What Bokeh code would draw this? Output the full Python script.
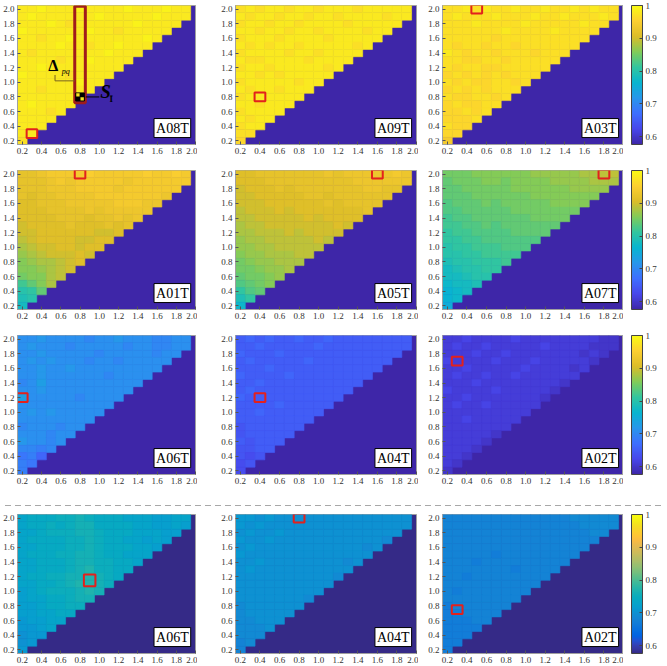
import numpy as np
from bokeh.plotting import figure
from bokeh.models import (ColumnDataSource, LinearColorMapper, ColorBar, FixedTicker,
                          PrintfTickFormatter, Label, Range1d, Div)
from bokeh.layouts import row, column
from bokeh.embed import file_html
from bokeh.resources import INLINE

# ---------------- data ----------------
Y_LEVELS = [2.0, 1.9, 1.8, 1.7, 1.6, 1.5, 1.4, 1.3, 1.2, 1.1, 1.0, 0.9, 0.8, 0.7, 0.6, 0.5, 0.4, 0.3, 0.2]
X_LEVELS = [0.2, 0.3, 0.4, 0.5, 0.6, 0.7, 0.8, 0.9, 1.0, 1.1, 1.2, 1.3, 1.4, 1.5, 1.6, 1.7, 1.8, 1.9]
AXIS_TICKS = [0.2, 0.4, 0.6, 0.8, 1.0, 1.2, 1.4, 1.6, 1.8, 2.0]
CBAR_TICKS = [0.6, 0.7, 0.8, 0.9, 1.0]
CBAR_LOW, CBAR_HIGH = 0.576, 1.0

# values x100, one string per y level (top row y=2.0 first), cells from x=0.2 rightwards
A08T_1 = ["98 98 99 98 98 98 99 98 98 98 98 99 98 98 98 99 98 98",
          "98 99 98 98 98 98 98 98 99 98 98 98 98 98 99 98 98 98",
          "98 98 98 99 98 97 98 98 98 98 98 98 99 98 98 98 98",
          "99 98 98 98 98 98 98 99 98 98 97 98 98 98 98 98",
          "98 98 97 98 98 99 98 98 98 98 98 98 98 99 98",
          "98 98 98 98 99 98 98 97 98 98 99 98 98 98",
          "98 97 98 98 98 98 98 98 98 99 98 98 98",
          "98 98 98 98 97 98 98 99 98 98 98 98",
          "98 98 99 98 98 98 98 98 98 98 98",
          "99 98 98 98 98 97 98 98 98 98",
          "98 98 98 98 98 98 99 98 98",
          "98 98 97 98 98 98 98 98",
          "98 98 98 98 98 98 98",
          "98 99 98 98 98 98",
          "98 98 98 97 98",
          "98 98 98 98",
          "98 98 98",
          "98 98",
          "97"]
A09T_1 = ["97 98 97 98 98 97 98 98 97 98 98 98 97 98 98 98 98 98",
          "98 97 98 98 97 98 98 97 98 98 97 98 98 98 98 97 98 98",
          "97 98 98 97 98 98 97 98 98 98 98 97 98 98 98 98 98",
          "98 98 97 98 98 97 98 98 97 98 98 98 98 97 98 98",
          "97 98 98 98 97 98 98 98 98 97 98 98 98 98 98",
          "98 97 98 97 98 98 97 98 98 98 98 98 97 98",
          "97 98 98 98 98 97 98 98 97 98 98 98 98",
          "98 97 97 98 98 98 98 97 98 98 98 98",
          "97 98 98 97 98 98 98 98 98 97 98",
          "98 98 97 98 97 98 98 98 98 98",
          "97 98 98 98 98 98 97 98 98",
          "98 97 98 98 97 98 98 98",
          "97 98 98 98 98 98 98",
          "98 98 97 98 98 98",
          "97 98 98 98 98",
          "98 97 98 98",
          "97 98 98",
          "97 97",
          "96"]
A03T_1 = ["97 97 98 97 98 97 97 98 97 97 98 97 97 98 97 98 97 97",
          "97 98 97 97 97 98 97 97 97 98 97 97 98 97 97 97 98 97",
          "97 97 97 98 97 97 97 97 98 97 97 97 97 97 98 97 97",
          "97 97 97 97 97 97 98 97 97 97 97 98 97 97 97 97",
          "97 97 97 97 97 96 97 97 97 97 97 97 97 97 97",
          "97 96 97 97 96 97 97 96 97 97 97 97 97 97",
          "98 97 96 97 97 96 97 97 97 96 97 97 97",
          "97 97 96 96 97 97 96 97 97 97 97 97",
          "97 96 97 97 96 96 97 97 97 97 97",
          "96 97 96 97 96 97 96 97 97 97",
          "97 96 97 96 96 97 97 96 97",
          "96 97 96 97 96 97 97 97",
          "97 96 96 97 97 96 97",
          "96 97 96 96 97 97",
          "96 96 97 96 97",
          "96 96 96 97",
          "97 96 96",
          "96 96",
          "94"]
A01T_2 = ["92 92 93 94 94 94 94 95 94 94 94 94 94 95 94 94 95 94",
          "92 92 92 93 94 93 94 94 94 94 94 93 94 94 94 94 94 94",
          "92 92 92 93 93 93 94 94 94 94 93 94 94 94 94 94 94",
          "92 91 92 92 93 93 93 93 94 94 94 94 94 94 94 93",
          "91 91 92 92 92 93 93 93 93 93 94 94 94 93 93",
          "91 91 91 92 92 92 92 93 92 93 93 93 93 93",
          "91 91 91 91 92 92 92 91 92 92 93 92 93",
          "90 91 91 91 91 92 91 91 91 92 91 92",
          "90 90 91 91 91 91 91 91 90 90 91",
          "89 90 91 91 91 91 90 90 91 91",
          "88 89 90 90 91 91 90 91 91",
          "87 88 89 90 90 90 91 90",
          "86 87 88 88 89 90 91",
          "86 86 87 88 89 90",
          "85 86 86 88 89",
          "82 84 86 88",
          "80 81 84",
          "79 80",
          "78"]
A05T_2 = ["91 91 92 92 92 92 92 92 92 93 92 93 93 93 93 93 94 93",
          "91 91 91 92 92 92 92 92 92 92 92 92 93 93 93 93 93 93",
          "90 91 91 91 92 91 92 92 92 92 92 92 92 93 93 92 92",
          "90 90 91 91 91 91 91 92 92 91 92 92 92 92 92 92",
          "90 90 90 91 91 91 91 91 91 92 91 92 92 92 92",
          "89 90 90 90 91 90 91 91 91 91 91 91 91 92",
          "89 89 90 90 90 90 90 91 90 91 91 91 91",
          "88 89 89 90 90 90 90 90 90 90 91 90",
          "88 88 89 89 89 90 89 90 90 90 90",
          "87 88 88 89 89 89 89 89 90 89",
          "87 87 88 88 89 89 89 89 89",
          "86 87 87 88 88 88 89 89",
          "85 86 87 87 88 88 88",
          "85 85 86 87 87 88",
          "84 85 85 86 87",
          "83 84 85 86",
          "81 83 84",
          "79 81",
          "77"]
A07T_2 = ["85 85 85 86 86 86 86 86 86 87 87 87 87 87 88 88 89 89",
          "84 85 85 85 86 86 85 86 86 86 86 87 87 87 87 88 88 88",
          "84 84 85 85 85 85 85 86 86 86 86 86 86 87 87 87 87",
          "84 84 84 85 85 85 85 85 85 86 86 86 86 86 86 86",
          "83 84 84 84 85 84 85 85 85 85 85 86 86 86 86",
          "83 83 84 84 84 84 84 85 85 85 85 85 85 85",
          "82 83 83 84 84 84 84 84 84 85 85 85 85",
          "82 82 83 83 84 83 84 84 84 84 84 84",
          "81 82 82 83 83 83 83 84 84 84 84",
          "81 81 82 82 83 83 83 83 83 83",
          "80 81 81 82 82 82 83 83 83",
          "80 80 81 81 82 82 82 82",
          "79 80 80 81 81 81 82",
          "78 79 80 80 81 81",
          "78 78 79 80 80",
          "77 78 78 79",
          "76 77 78",
          "76 77",
          "75"]
A06T_3 = ["71 71 72 71 71 71 71 70 71 71 72 71 71 71 70 70 71 71",
          "71 72 71 71 71 70 71 71 71 71 71 70 71 71 70 70 71 71",
          "71 71 72 71 71 71 71 71 70 71 71 71 71 71 70 71 71",
          "71 72 71 72 71 71 71 70 71 71 70 71 71 71 71 71",
          "71 71 72 71 71 72 71 71 71 71 71 71 71 71 71",
          "71 71 72 71 71 71 71 71 71 70 71 71 71 71",
          "70 71 73 71 71 71 71 71 71 71 71 71 71",
          "71 71 72 71 71 71 71 71 71 71 71 71",
          "73 71 71 71 71 71 70 71 71 71 71",
          "71 71 71 71 71 71 71 71 71 71",
          "71 72 71 72 71 71 71 71 71",
          "71 71 71 71 71 71 71 71",
          "70 71 71 71 70 71 71",
          "71 71 71 70 71 71",
          "72 71 71 70 71",
          "70 70 69 70",
          "68 69 66",
          "69 68",
          "69"]
A04T_3 = ["65 66 65 66 65 65 66 65 65 66 65 65 65 65 65 65 65 65",
          "65 65 66 65 65 65 65 65 66 65 65 65 65 65 65 65 65 65",
          "66 65 65 65 66 65 65 65 65 65 65 65 65 65 65 65 65",
          "65 66 65 65 65 65 65 66 65 65 65 65 65 65 65 65",
          "65 65 65 66 65 65 65 65 65 65 65 65 65 65 65",
          "66 65 65 65 65 66 65 65 65 65 65 65 65 65",
          "65 65 66 65 65 65 65 65 65 65 65 65 65",
          "65 66 65 65 65 65 65 65 65 65 65 65",
          "66 65 65 65 65 65 65 65 65 65 65",
          "65 65 65 65 66 65 65 65 65 65",
          "65 65 66 65 65 65 65 65 65",
          "65 65 65 65 65 65 65 65",
          "64 65 65 65 65 65 65",
          "64 65 65 65 65 65",
          "65 64 65 65 65",
          "64 64 65 65",
          "64 63 64",
          "63 64",
          "63"]
A02T_3 = ["61 61 62 61 61 61 61 62 61 61 61 61 61 61 61 61 60 60",
          "61 62 61 61 62 61 61 61 61 61 62 61 61 61 61 60 60 60",
          "61 61 61 62 61 61 62 61 61 61 61 61 61 61 60 61 60",
          "62 61 61 61 61 62 61 61 61 62 61 61 61 61 61 60",
          "61 61 62 61 61 61 61 61 62 61 61 61 61 60 61",
          "61 62 61 61 62 61 61 62 61 61 61 61 61 61",
          "61 61 61 62 61 61 61 61 61 61 61 61 60",
          "62 61 61 61 61 62 61 61 61 61 61 60",
          "61 61 62 61 61 61 61 61 61 61 60",
          "61 62 61 61 62 61 61 61 61 61",
          "61 61 61 61 61 61 61 61 61",
          "61 61 62 61 61 61 61 61",
          "61 61 61 61 61 61 61",
          "61 61 61 61 61 60",
          "61 61 61 61 60",
          "61 61 61 60",
          "61 61 60",
          "61 60",
          "60"]
A06T_4 = ["73 74 74 74 75 75 76 75 74 74 74 73 73 73 72 72 73 73",
          "73 74 74 75 74 75 76 76 74 74 74 74 73 73 72 72 73 72",
          "73 73 74 75 75 75 76 76 75 74 74 74 73 73 73 72 72",
          "73 74 74 74 74 75 75 76 75 74 74 73 73 72 73 72",
          "73 73 74 74 74 75 75 76 75 74 74 74 73 73 72",
          "73 74 74 74 75 75 76 76 75 74 74 73 73 73",
          "73 73 74 74 74 75 76 76 75 75 74 74 73",
          "73 73 74 74 74 75 76 77 75 75 74 74",
          "73 74 74 75 75 76 76 77 76 75 74",
          "73 73 74 74 75 76 77 77 76 75",
          "72 73 74 75 75 75 76 77 76",
          "72 73 73 74 74 75 76 76",
          "72 72 73 74 74 75 75",
          "72 72 73 73 74 74",
          "71 72 72 73 73",
          "71 71 72 73",
          "70 71 71",
          "70 71",
          "71"]
A04T_4 = ["71 71 70 71 70 70 70 70 70 70 70 70 70 70 70 70 70 70",
          "71 70 71 70 70 70 70 70 70 70 70 70 70 70 70 70 70 70",
          "70 71 70 70 71 70 70 70 70 70 70 70 70 70 70 70 70",
          "71 70 70 71 70 70 70 70 70 70 70 70 70 70 70 69",
          "70 71 70 70 70 70 70 70 70 70 70 70 70 69 70",
          "71 70 70 70 70 70 70 70 70 70 70 70 70 70",
          "70 70 71 70 70 70 70 70 70 70 70 69 70",
          "70 71 70 70 70 70 70 70 70 70 70 70",
          "70 70 70 70 70 70 70 70 70 70 69",
          "70 70 70 70 70 70 70 70 70 70",
          "70 70 70 70 70 70 70 70 70",
          "70 70 70 70 70 70 70 69",
          "69 70 70 70 70 70 70",
          "69 70 70 70 70 70",
          "69 69 70 70 70",
          "69 69 69 70",
          "69 69 69",
          "68 69",
          "68"]
A02T_4 = ["68 68 68 68 68 68 68 68 68 68 68 68 68 69 69 69 69 69",
          "68 68 68 68 68 68 68 68 68 68 68 68 68 68 69 69 69 69",
          "68 68 68 68 68 68 68 68 68 68 68 68 68 68 68 69 69",
          "68 68 68 68 68 68 68 68 68 68 68 68 68 68 68 68",
          "68 68 68 68 68 68 68 68 68 68 68 68 68 68 68",
          "68 68 68 68 68 67 68 68 68 68 68 68 68 68",
          "68 68 68 67 68 68 68 68 68 68 68 68 68",
          "68 68 68 68 68 68 68 67 68 68 68 68",
          "68 68 67 68 68 68 68 68 68 68 68",
          "68 68 68 68 68 68 68 68 68 68",
          "68 67 68 68 68 68 68 68 68",
          "68 68 68 68 68 68 68 68",
          "67 68 68 68 68 68 68",
          "67 67 68 68 68 68",
          "67 67 67 68 68",
          "67 67 67 67",
          "67 67 67",
          "67 67",
          "67"]

PANEL_DATA = [[A08T_1, A09T_1, A03T_1],
              [A01T_2, A05T_2, A07T_2],
              [A06T_3, A04T_3, A02T_3],
              [A06T_4, A04T_4, A02T_4]]
PANEL_NAMES = [["A08T", "A09T", "A03T"],
               ["A01T", "A05T", "A07T"],
               ["A06T", "A04T", "A02T"],
               ["A06T", "A04T", "A02T"]]
HIGHLIGHT_X = [[0.3, 0.4, 0.5], [0.8, 1.6, 1.8], [0.2, 0.4, 0.3], [0.9, 0.8, 0.3]]
HIGHLIGHT_Y = [[0.3, 0.8, 2.0], [2.0, 2.0, 2.0], [1.2, 1.2, 1.7], [1.15, 2.0, 0.75]]
HIGHLIGHT_W = [[0.11, 0.11, 0.11], [0.11, 0.11, 0.11], [0.11, 0.11, 0.11], [0.12, 0.11, 0.11]]
HIGHLIGHT_H = [[0.12, 0.12, 0.12], [0.12, 0.12, 0.12], [0.12, 0.12, 0.12], [0.16, 0.12, 0.12]]

# special annotation on A08T: column of pairs and the S_I cell
COLUMN_X = 0.8
COLUMN_Y = [0.8, 2.0]
S_POINT = (0.8, 0.8)

# ---------------- palettes ----------------
NEW_PARULA = [(0.2422, 0.1504, 0.6603), (0.2803, 0.2782, 0.9221), (0.2440, 0.4358, 0.9988),
              (0.1540, 0.5902, 0.9218), (0.0297, 0.7082, 0.8163), (0.1938, 0.7758, 0.6251),
              (0.5044, 0.7993, 0.3480), (0.8634, 0.7406, 0.1596), (0.9892, 0.8136, 0.1885),
              (0.9769, 0.9839, 0.0805)]
OLD_PARULA = [(0.2081, 0.1663, 0.5292), (0.2123, 0.2138, 0.6270), (0.1959, 0.2645, 0.7279),
              (0.1253, 0.3242, 0.8303), (0.0117, 0.3875, 0.8820), (0.0165, 0.4266, 0.8786),
              (0.0498, 0.4586, 0.8641), (0.0723, 0.4887, 0.8467), (0.0793, 0.5200, 0.8312),
              (0.0641, 0.5570, 0.8240), (0.0343, 0.5966, 0.8199), (0.0239, 0.6287, 0.8038),
              (0.0228, 0.6535, 0.7768), (0.0384, 0.6743, 0.7436), (0.0843, 0.6928, 0.7062),
              (0.1453, 0.7098, 0.6646), (0.2178, 0.7250, 0.6193), (0.3022, 0.7376, 0.5712),
              (0.3953, 0.7459, 0.5244), (0.4871, 0.7491, 0.4840), (0.5709, 0.7485, 0.4494),
              (0.6473, 0.7456, 0.4188), (0.7184, 0.7411, 0.3905), (0.7858, 0.7356, 0.3633),
              (0.8507, 0.7299, 0.3360), (0.9139, 0.7258, 0.3063), (0.9739, 0.7314, 0.2666),
              (0.9990, 0.7653, 0.2164), (0.9880, 0.8066, 0.1794), (0.9697, 0.8481, 0.1475),
              (0.9589, 0.8949, 0.1132), (0.9661, 0.9514, 0.0755), (0.9763, 0.9831, 0.0538)]


def make_palette(anchors, n=256):
    a = np.array(anchors)
    t = np.linspace(0, 1, len(a))
    tt = np.linspace(0, 1, n)
    cols = np.stack([np.interp(tt, t, a[:, k]) for k in range(3)], axis=1)
    return ["#%02x%02x%02x" % tuple(int(round(c * 255)) for c in rgb) for rgb in cols]


PAL_NEW = make_palette(NEW_PARULA)
PAL_OLD = make_palette(OLD_PARULA)

FONT = "Liberation Serif"
FW, FH = 181, 139
COL_BORDERS = [(14, 2), (38, 2), (24, 0)]              # left, right
ROW_BORDERS = [(5, 21), (5, 21), (5, 15), (7, 14)]     # top, bottom
CB_GAP, CB_RIGHT = 10, 26


def mapper_for(ri):
    pal = PAL_OLD if ri == 3 else PAL_NEW
    return LinearColorMapper(palette=pal, low=CBAR_LOW, high=CBAR_HIGH), pal


def make_panel(ri, ci):
    rows_txt = PANEL_DATA[ri][ci]
    xs, ys, vs = [], [], []
    for yv, r in zip(Y_LEVELS, rows_txt):
        for xv, t in zip(X_LEVELS, r.split()):
            xs.append(xv)
            ys.append(yv)
            vs.append(int(t) / 100.0)
    src = ColumnDataSource(dict(x=xs, y=ys, v=vs))
    mapper, pal = mapper_for(ri)
    bl, br = COL_BORDERS[ci]
    bt, bb = ROW_BORDERS[ri]
    p = figure(width=bl + FW + br, height=bt + FH + bb,
               x_range=Range1d(0.15, 2.0), y_range=Range1d(0.15, 2.05),
               output_backend="svg", toolbar_location=None, tools="",
               min_border_left=bl, min_border_right=br, min_border_top=bt, min_border_bottom=bb,
               background_fill_color=pal[0], border_fill_color="white",
               outline_line_color="#a0a0a0")
    p.grid.visible = False
    cm = {"field": "v", "transform": mapper}
    p.rect("x", "y", width=0.1, height=0.1, source=src, fill_color=cm, line_color=cm, line_width=0.6)

    for ax in (p.xaxis[0], p.yaxis[0]):
        ax.ticker = FixedTicker(ticks=AXIS_TICKS)
        ax.formatter = PrintfTickFormatter(format="%.1f")
        ax.major_label_text_font = FONT
        ax.major_label_text_font_size = "9px"
        ax.major_label_text_color = "#333333"
        ax.major_tick_in = 3
        ax.major_tick_out = 0
        ax.major_tick_line_color = "#555555"
        ax.minor_tick_line_color = None
        ax.axis_line_color = "#a0a0a0"
        ax.major_label_standoff = 3

    # red highlight
    p.rect(x=[HIGHLIGHT_X[ri][ci]], y=[HIGHLIGHT_Y[ri][ci]], width=HIGHLIGHT_W[ri][ci],
           height=HIGHLIGHT_H[ri][ci], fill_color=None, line_color="#e3211c", line_width=2)

    if ri == 0 and ci == 0:
        p.quad(left=[COLUMN_X - 0.055], right=[COLUMN_X + 0.055],
               bottom=[COLUMN_Y[0] - 0.08], top=[COLUMN_Y[1] + 0.04],
               fill_color=None, line_color="#a01c1c", line_width=3)
        sx, sy = S_POINT
        p.rect(x=[sx], y=[sy], width=0.09, height=0.11, fill_color="black", line_color="black")
        p.rect(x=[sx - 0.022, sx + 0.022], y=[sy + 0.027, sy - 0.027], width=0.035, height=0.045,
               fill_color="#f5e520", line_color=None)
        p.line(x=[sx + 0.06, sx + 0.2], y=[sy, sy], line_color="black", line_width=1)
        p.add_layout(Label(x=sx + 0.21, y=sy - 0.07, text="S", text_font=FONT,
                           text_font_size="19px", text_font_style="bold italic", text_color="black"))
        p.add_layout(Label(x=sx + 0.305, y=sy - 0.09, text="Ī", text_font=FONT,
                           text_font_size="9px", text_font_style="bold", text_color="black"))
        p.line(x=[0.54, 0.54, COLUMN_X - 0.055], y=[1.1, 1.02, 1.02], line_color="#7a6420", line_width=1)
        p.add_layout(Label(x=0.47, y=1.12, text="Δ", text_font=FONT, text_font_size="16px",
                           text_font_style="bold", text_color="black"))
        p.add_layout(Label(x=0.61, y=1.09, text="pq", text_font=FONT, text_font_size="8px",
                           text_font_style="italic", text_color="black"))

    p.add_layout(Label(x=1.95, y=0.245, text=PANEL_NAMES[ri][ci], text_align="right",
                       text_baseline="bottom", text_font=FONT, text_font_size="14px",
                       text_color="black", background_fill_color="white",
                       border_line_color="black", border_line_width=1, padding=2))
    return p


def make_colorbar(ri):
    mapper, pal = mapper_for(ri)
    bt, bb = ROW_BORDERS[ri]
    c = figure(width=CB_GAP + CB_RIGHT, height=bt + FH + bb,
               x_range=Range1d(0, 1), y_range=Range1d(0, 1),
               output_backend="svg", toolbar_location=None, tools="",
               x_axis_location=None, y_axis_location=None,
               min_border_left=0, min_border_right=CB_RIGHT, min_border_top=bt, min_border_bottom=bb,
               background_fill_color="white", border_fill_color="white", outline_line_color=None)
    c.grid.visible = False
    cb = ColorBar(color_mapper=mapper, ticker=FixedTicker(ticks=CBAR_TICKS),
                  formatter=PrintfTickFormatter(format="%.1f"),
                  major_label_overrides={1.0: "1"},
                  width=11, height=FH, padding=0, margin=0,
                  major_label_text_font=FONT, major_label_text_font_size="9px",
                  major_label_text_color="#333333",
                  major_tick_in=3, major_tick_out=0, major_tick_line_color="#444444",
                  minor_tick_line_color=None, bar_line_color="#444444",
                  label_standoff=3, background_fill_color=None)
    c.add_layout(cb, "right")
    return c


rows = []
for ri in range(4):
    rows.append(row(*[make_panel(ri, ci) for ci in range(3)], make_colorbar(ri)))

sep = Div(text='<div style="margin-top:4px;height:1px;width:659px;'
               'background:repeating-linear-gradient(to right,#a8a8a8 0 6px,transparent 6px 10px);"></div>',
          width=659, height=8)

layout = column(rows[0], rows[1], rows[2], sep, rows[3])

open("out.html", "w").write(file_html(layout, INLINE))
